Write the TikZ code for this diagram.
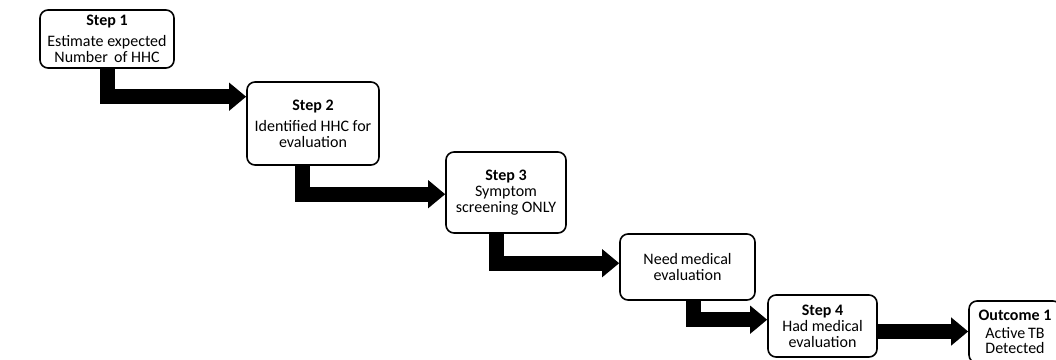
\documentclass[tikz,border=0pt]{standalone}
\usepackage{fontspec}
\setmainfont{Carlito}
\usetikzlibrary{arrows.meta,calc}
\tikzset{
  box/.style={draw=black, line width=1.6pt, rounded corners=8pt, fill=white,
    align=center, inner sep=0pt, font=\fontsize{16}{16}\selectfont},
  flow/.style={line width=15pt, draw=black, -{Triangle[length=17pt,width=27pt]}}
}
\begin{document}
\begin{tikzpicture}[x=1pt,y=-1pt]
\useasboundingbox (0,0) rectangle (1056,359);
\clip (0,0) rectangle (1056,359);
\node[box, minimum width=134pt, minimum height=58pt] (b1) at (107,39)
  {\textbf{Step 1}\\[5pt]Estimate expected\\Number\, of HHC};
\node[box, minimum width=132pt, minimum height=83pt] (b2) at (313,123.5)
  {\textbf{Step 2}\\[5pt]Identified HHC for\\evaluation};
\node[box, minimum width=120pt, minimum height=81pt] (b3) at (506,192.5)
  {\textbf{Step 3}\\Symptom\\screening ONLY};
\node[box, minimum width=135pt, minimum height=66pt] (b4) at (687.5,267)
  {Need\,medical\\evaluation};
\node[box, minimum width=109pt, minimum height=62pt] (b5) at (822.5,326)
  {\textbf{Step 4}\\Had medical\\evaluation};
\node[box, minimum width=92pt, minimum height=62pt, font=\fontsize{16}{15}\selectfont] (b6) at (1015,332)
  {\textbf{Outcome 1}\\[3pt]Active\,TB\\Detected};
\draw[flow] ([xshift=68.5pt]b1.south west) |- ([yshift=-15.5pt]b2.north west);
\draw[flow] ([xshift=56pt]b2.south west) |- ([yshift=-43pt]b3.north west);
\draw[flow] ([xshift=51.5pt]b3.south west) |- ([yshift=-30pt]b4.north west);
\draw[flow] ([xshift=74.5pt]b4.south west) |- ([yshift=-25.5pt]b5.north west);
\draw[flow] ([yshift=-5.5pt]b5.east) -- ([yshift=-5.5pt]b5.east -| b6.west);
\end{tikzpicture}
\end{document}
